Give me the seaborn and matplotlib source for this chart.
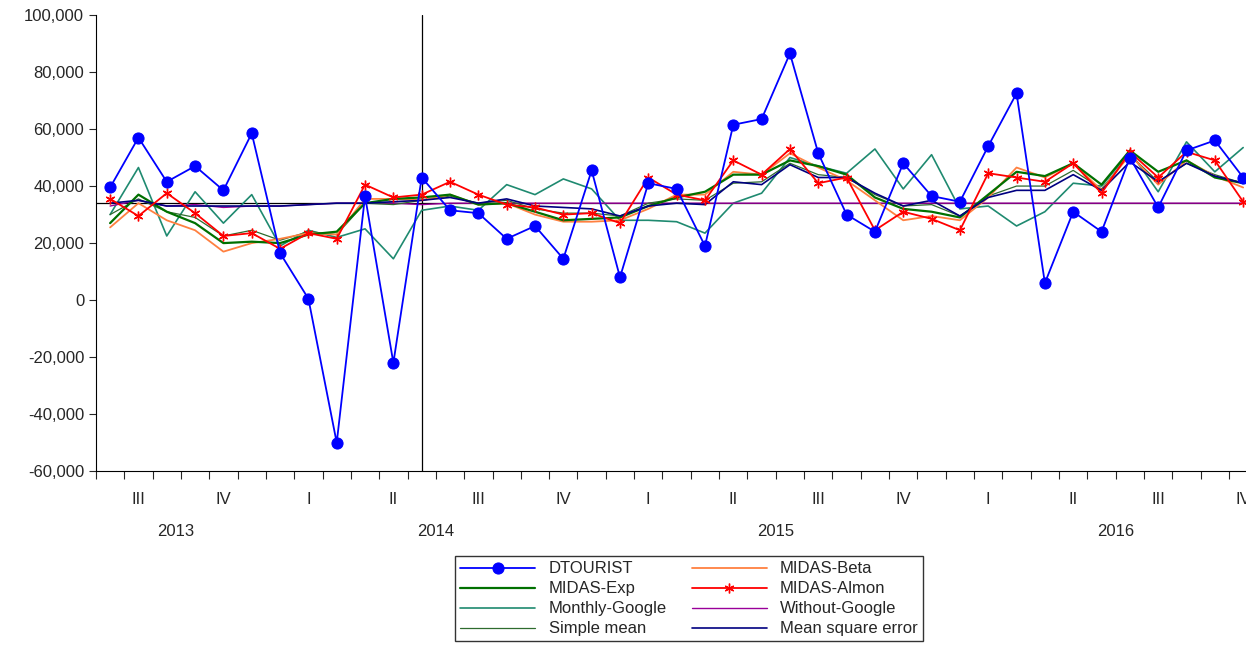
import matplotlib
matplotlib.use("Agg")
import matplotlib.pyplot as plt
import seaborn as sns
import numpy as np
import pandas as pd
from matplotlib.ticker import FuncFormatter

months = pd.date_range("2013-07-01", periods=41, freq="MS")
dtourist = [39500,57000,41500,47000,38500,58500,16500,500,-50000,36500,-22000,43000,31500,30500,21500,26000,14500,45500,8000,41000,39000,19000,61500,63500,86500,51500,30000,24000,48000,36500,34500,54000,72500,6000,31000,24000,50000,32500,52500,56000,43000]
midas_beta = [25500,34000,28000,24500,17000,20000,21500,23500,23000,35500,35500,35000,37000,33500,34000,30000,27500,27500,28000,32000,37000,37000,45000,44000,51500,46500,42000,35000,28000,29500,28000,36000,46500,43000,48000,38500,51000,40500,49000,43500,39500]
midas_exp = [27000,37000,31000,27000,20000,20500,20000,23000,24000,34000,35500,36000,37000,33500,34000,31000,28000,28500,29000,33000,36000,38000,44000,44000,49000,47000,44000,36000,32000,31000,29000,37000,45000,43500,48000,40500,52500,45000,49000,43000,41000]
midas_almon = [35500,29500,37500,30500,22500,23500,18000,23500,21500,40500,36000,37000,41500,37000,33500,32500,30000,30500,27000,43000,37000,35000,49000,44000,53000,41000,43000,24500,31000,28500,24500,44500,43000,41500,48000,37500,52000,43000,52000,49000,34500]
monthly_google = [30000,46500,22500,38000,27000,37000,19000,24500,22000,25000,14500,31500,33000,31500,40500,37000,42500,39000,28000,28000,27500,23500,34000,37500,50000,47000,44500,53000,39000,51000,32000,33000,26000,31000,41000,40000,52000,38000,55500,45000,53500]
without_google = [33000,35000,33000,33500,32500,33000,33000,33500,34000,34000,34000,33500,34000,34000,34000,34000,34000,34000,34000,34000,34000,34000,34000,34000,34000,34000,34000,34000,34000,34000,34000,34000,34000,34000,34000,34000,34000,34000,34000,34000,34000]
simple_mean = [30000,35500,31000,29000,22500,24500,21000,24000,23000,34000,33500,35000,36500,34000,35000,32000,30500,30500,29500,34000,35500,35000,41000,41500,48000,44000,43000,37000,33000,33500,29500,36500,40000,40000,45500,39000,51000,41500,48000,44000,41000]
mse = [34000,35000,33000,33000,33000,33000,33000,33500,34000,34000,34500,35000,36000,34000,35500,33000,32500,32000,29500,33000,34000,33500,41500,40500,47500,43000,43000,37500,33000,35000,29500,36000,38500,38500,44000,38500,48500,41500,48000,43500,41000]
mean_level = 34000
split_index = 11
quarter_labels = ["III","IV","I","II","III","IV","I","II","III","IV","I","II","III","IV"]
year_labels = ["2013","2014","2015","2016"]

sns.set_style("white")
plt.rcParams['font.family'] = ['Liberation Sans', 'DejaVu Sans']
fig = plt.figure(figsize=(12.46, 6.5), dpi=100)
ax = fig.add_axes([0.077, 0.275, 0.923, 0.702])
x = np.arange(len(months))

series = [
    ("Monthly-Google", monthly_google, "#1f8a70", 1.2, None),
    ("Without-Google", without_google, "#990099", 1.0, None),
    ("Simple mean", simple_mean, "#2e6b2e", 0.9, None),
    ("MIDAS-Beta", midas_beta, "#ff8040", 1.3, None),
    ("MIDAS-Exp", midas_exp, "#007000", 1.6, None),
    ("Mean square error", mse, "#000080", 1.2, None),
    ("MIDAS-Almon", midas_almon, "#ff0000", 1.3, (6, 2, 0)),
]
ax.axhline(mean_level, color="black", lw=0.9)
ax.axvline(split_index, color="black", lw=0.9)
for name, vals, col, lw, mk in series:
    sns.lineplot(x=x, y=vals, ax=ax, color=col, lw=lw, marker=mk, markersize=7,
                 markeredgecolor=col, markeredgewidth=1.0, label=name)
sns.lineplot(x=x, y=dtourist, ax=ax, color="#0000ff", lw=1.3, marker="o", markersize=8,
             markeredgecolor="#0000ff", label="DTOURIST")

ax.set_xticks(np.arange(-0.5, 40.6, 1))
ax.set_xticklabels([])
ax.set_xlim(-0.5, 40.1)
ax.set_yticks(range(-60000, 100001, 20000))
ax.set_ylim(-60000, 100000)
ax.yaxis.set_major_formatter(FuncFormatter(lambda v, p: f"{int(v):,}"))
ax.tick_params(axis="y", labelsize=12, length=5, direction="out", left=True)
ax.tick_params(axis="x", length=6, direction="out", bottom=True)
for s in ["top", "right"]:
    ax.spines[s].set_visible(False)
for s in ["left", "bottom"]:
    ax.spines[s].set_color("black")

for i, q in enumerate(quarter_labels):
    ax.text(1 + 3 * i, -0.045, q, transform=ax.get_xaxis_transform(), ha="center", va="top", fontsize=12)
for i, yl in enumerate(year_labels):
    cx = [2.3, 11.5, 23.5, 35.5][i]
    ax.text(cx, -0.115, yl, transform=ax.get_xaxis_transform(), ha="center", va="top", fontsize=12)

h, l = ax.get_legend_handles_labels()
d = dict(zip(l, h))
order = ["DTOURIST","MIDAS-Beta","MIDAS-Exp","MIDAS-Almon","Monthly-Google","Without-Google","Simple mean","Mean square error"]
col_order = order[0::2] + order[1::2]
leg = fig.legend([d[k] for k in col_order], col_order, ncol=2, loc="center",
                 bbox_to_anchor=(0.553, 0.0785), fontsize=12, frameon=True, fancybox=False,
                 edgecolor="black", borderpad=0.3, labelspacing=0.3, handlelength=4.5,
                 columnspacing=1.5)
leg.get_frame().set_linewidth(1.0)
ax.get_legend().remove()
fig.savefig("out.png", dpi=100)
